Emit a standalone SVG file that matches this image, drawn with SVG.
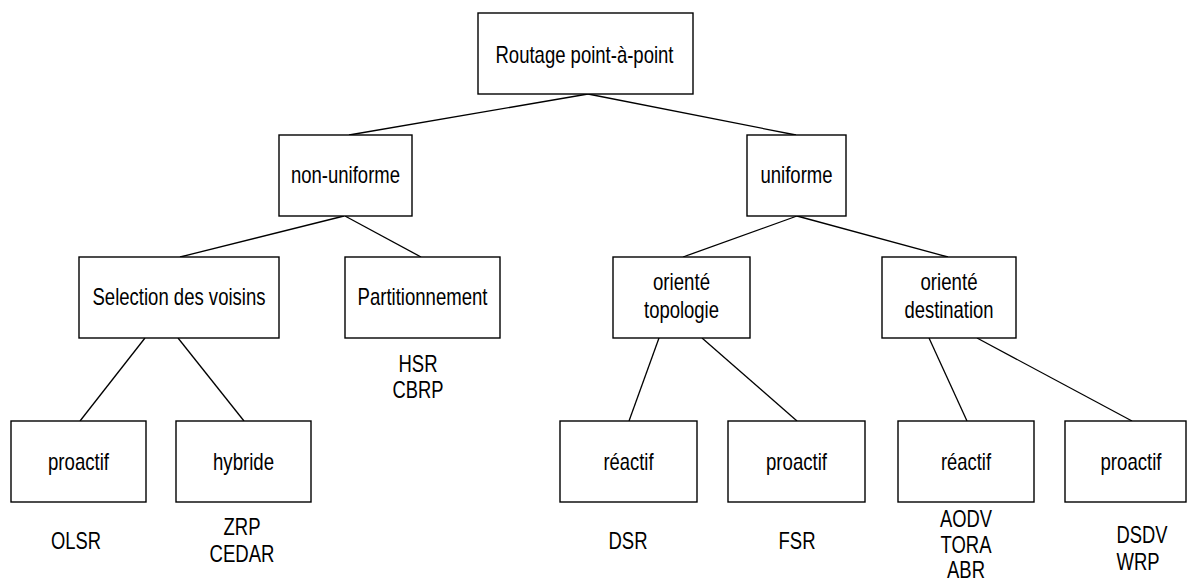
<svg xmlns="http://www.w3.org/2000/svg" width="1191" height="585" viewBox="0 0 1191 585">
<style>
.box{fill:#fff;stroke:#000;stroke-width:1.4}
.t{font-family:"Liberation Sans",Arial,sans-serif;font-size:24px;fill:#000;text-anchor:middle}
.c line{stroke:#000;stroke-width:1.3}
</style>
<rect width="1191" height="585" fill="#fff"/>
<g class="c" id="connectors">
<line x1="588" y1="94" x2="349" y2="135"/>
<line x1="588" y1="94" x2="796" y2="135"/>
<line x1="344" y1="216" x2="180" y2="257"/>
<line x1="345" y1="216" x2="421" y2="257"/>
<line x1="797" y1="216" x2="683" y2="257"/>
<line x1="797" y1="216" x2="948" y2="257"/>
<line x1="145" y1="338" x2="80" y2="421"/>
<line x1="178" y1="338" x2="244" y2="421"/>
<line x1="659" y1="338" x2="629" y2="421"/>
<line x1="702" y1="338" x2="797" y2="421"/>
<line x1="929" y1="338" x2="967" y2="421"/>
<line x1="977" y1="338" x2="1132" y2="421"/>
</g>
<g id="root"><rect class="box" x="478" y="13" width="215" height="81"/><text class="t" x="584.5" y="63" textLength="178" lengthAdjust="spacingAndGlyphs">Routage point-à-point</text></g>
<g id="non-uniforme"><rect class="box" x="279" y="135" width="133" height="81"/><text class="t" x="345.5" y="183" textLength="109" lengthAdjust="spacingAndGlyphs">non-uniforme</text></g>
<g id="uniforme"><rect class="box" x="747" y="135" width="99" height="81"/><text class="t" x="796.5" y="183" textLength="72" lengthAdjust="spacingAndGlyphs">uniforme</text></g>
<g id="selection"><rect class="box" x="79" y="257" width="200" height="81"/><text class="t" x="179" y="305" textLength="173" lengthAdjust="spacingAndGlyphs">Selection des voisins</text></g>
<g id="partitionnement"><rect class="box" x="345" y="257" width="155" height="81"/><text class="t" x="422.5" y="305" textLength="130" lengthAdjust="spacingAndGlyphs">Partitionnement</text>
<text class="t" x="418" y="372" textLength="39" lengthAdjust="spacingAndGlyphs">HSR</text><text class="t" x="418" y="398" textLength="51" lengthAdjust="spacingAndGlyphs">CBRP</text></g>
<g id="oriente-topologie"><rect class="box" x="613" y="257" width="137" height="81"/><text class="t" x="681.5" y="290" textLength="57" lengthAdjust="spacingAndGlyphs">orienté</text><text class="t" x="681.5" y="318" textLength="75" lengthAdjust="spacingAndGlyphs">topologie</text></g>
<g id="oriente-destination"><rect class="box" x="882" y="257" width="134" height="81"/><text class="t" x="949" y="290" textLength="57" lengthAdjust="spacingAndGlyphs">orienté</text><text class="t" x="949" y="318" textLength="89" lengthAdjust="spacingAndGlyphs">destination</text></g>
<g id="proactif-1"><rect class="box" x="11" y="421" width="135" height="81"/><text class="t" x="78.5" y="470" textLength="61" lengthAdjust="spacingAndGlyphs">proactif</text><text class="t" x="76" y="549" textLength="50" lengthAdjust="spacingAndGlyphs">OLSR</text></g>
<g id="hybride"><rect class="box" x="176" y="421" width="135" height="81"/><text class="t" x="243.5" y="470" textLength="61" lengthAdjust="spacingAndGlyphs">hybride</text><text class="t" x="242" y="535" textLength="37" lengthAdjust="spacingAndGlyphs">ZRP</text><text class="t" x="242" y="562" textLength="65" lengthAdjust="spacingAndGlyphs">CEDAR</text></g>
<g id="reactif-1"><rect class="box" x="560" y="421" width="137" height="81"/><text class="t" x="628.5" y="470" textLength="50" lengthAdjust="spacingAndGlyphs">réactif</text><text class="t" x="628" y="549" textLength="39" lengthAdjust="spacingAndGlyphs">DSR</text></g>
<g id="proactif-2"><rect class="box" x="728" y="421" width="137" height="81"/><text class="t" x="796.5" y="470" textLength="61" lengthAdjust="spacingAndGlyphs">proactif</text><text class="t" x="797" y="549" textLength="37" lengthAdjust="spacingAndGlyphs">FSR</text></g>
<g id="reactif-2"><rect class="box" x="898" y="421" width="136" height="81"/><text class="t" x="966" y="470" textLength="50" lengthAdjust="spacingAndGlyphs">réactif</text><text class="t" x="966" y="527" textLength="52" lengthAdjust="spacingAndGlyphs">AODV</text><text class="t" x="966" y="553" textLength="51" lengthAdjust="spacingAndGlyphs">TORA</text><text class="t" x="966" y="578" textLength="38" lengthAdjust="spacingAndGlyphs">ABR</text></g>
<g id="proactif-3"><rect class="box" x="1065" y="421" width="121" height="81"/><text class="t" x="1131" y="470" textLength="61" lengthAdjust="spacingAndGlyphs">proactif</text><text class="t" x="1142" y="543" textLength="51" lengthAdjust="spacingAndGlyphs">DSDV</text><text class="t" x="1138" y="570" textLength="43" lengthAdjust="spacingAndGlyphs">WRP</text></g>
</svg>
